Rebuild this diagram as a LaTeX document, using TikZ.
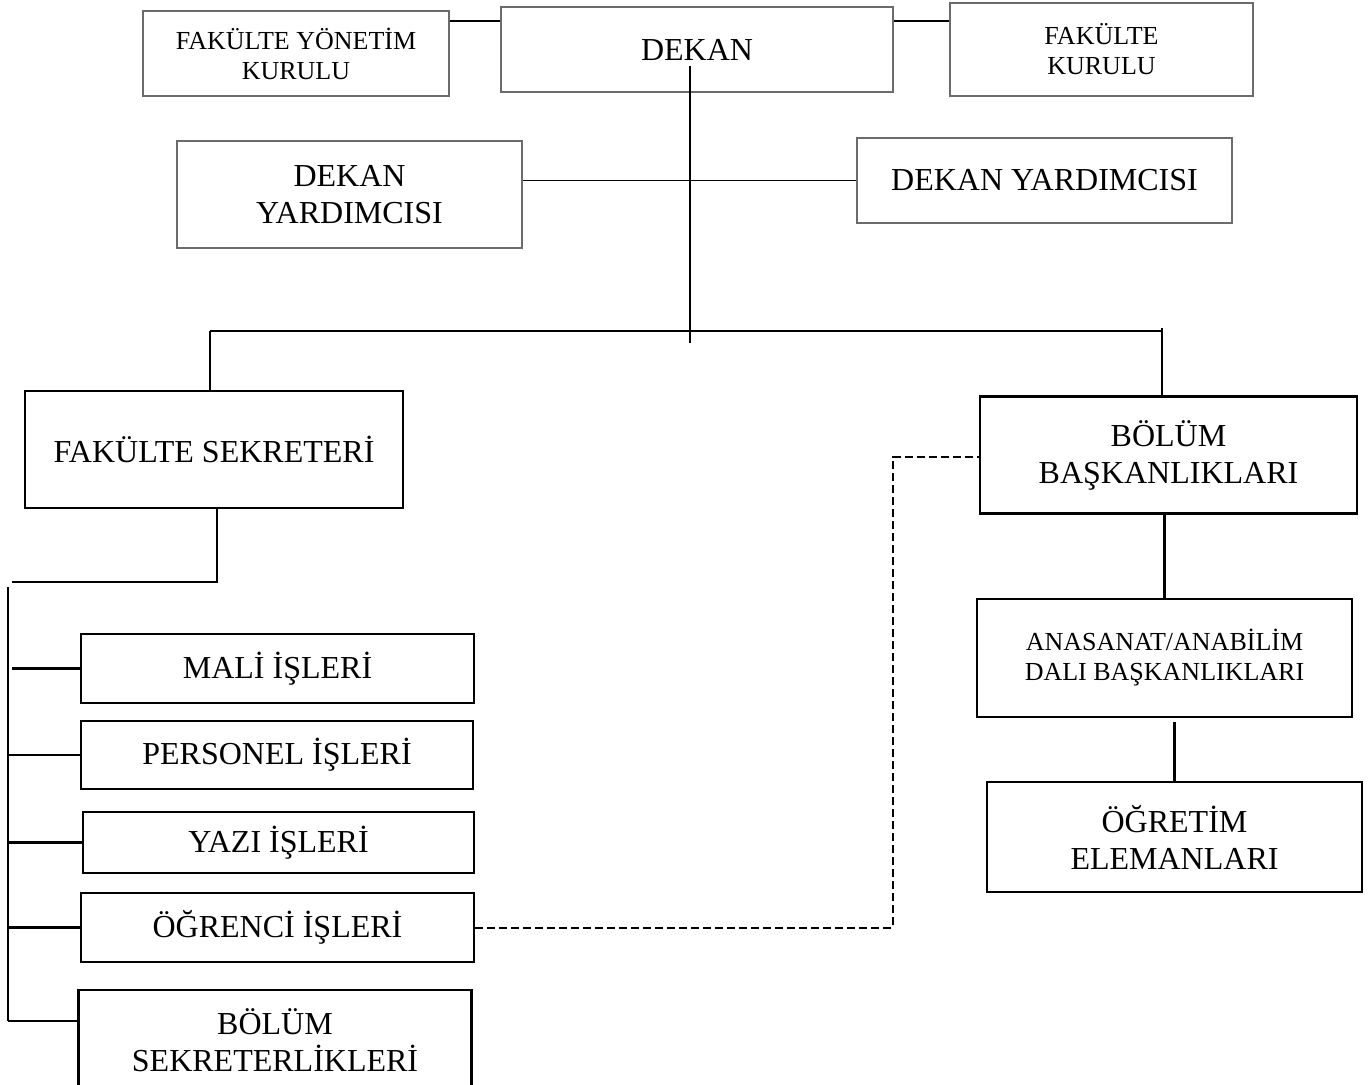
\documentclass[tikz,border=0pt]{standalone}
\usepackage{fontspec}
\setmainfont{Liberation Serif}
\newcommand\bigtext{\fontsize{32}{37}\selectfont}
\newcommand\smalltext{\fontsize{26}{30}\selectfont}
\tikzset{
  % style for the black boxes of the chart, size given as width/height
  unit box/.style args={#1/#2}{
    draw=black,line width=2.3pt,rectangle,inner sep=0pt,align=center,
    minimum width=#1,minimum height=#2,font=\bigtext
  },
  % style for the grey boxes at the top
  board box/.style args={#1/#2}{
    unit box=#1/#2,draw=black!58,line width=2pt
  },
  % plain and dashed links
  link/.style={draw=black,line width=2.3pt},
  dash link/.style={draw=black,line width=2pt,dash pattern=on 8pt off 4pt},
}

\begin{document}
\begin{tikzpicture}[x=1pt,y=-1pt]
\useasboundingbox (0,0) rectangle (1372,1084);
% top level
\node[board box=306pt/85pt,font=\smalltext] (fyk) at (296,53.5){FAKÜLTE YÖNETİM\\KURULU};
\node[board box=392pt/85pt] (dekan) at (697,49.5){DEKAN};
\node[board box=303pt/93pt,font=\smalltext] (fk) at (1101.5,49.5){FAKÜLTE\\KURULU};
\node[board box=345pt/107pt] (dyl) at (349.5,194.5){DEKAN\\YARDIMCISI};
\node[board box=375pt/85pt] (dyr) at (1044.5,180.5){DEKAN YARDIMCISI};
% second level
\node[unit box=378pt/117pt] (fs) at (214,449.5){FAKÜLTE SEKRETERİ};
\node[unit box=377pt/117pt] (bb) at (1168.5,455){BÖLÜM\\BAŞKANLIKLARI};
\node[unit box=375pt/118pt,font=\smalltext] (ana) at (1164.5,658){ANASANAT/ANABİLİM\\DALI BAŞKANLIKLARI};
\node[unit box=375pt/110pt] (oe) at (1174.5,837){ÖĞRETİM\\ELEMANLARI};
% offices
\node[unit box=393pt/69pt] (mali) at (277.5,668.5){MALİ İŞLERİ};
\node[unit box=392pt/68pt] (pers) at (277,755){PERSONEL İŞLERİ};
\node[unit box=391pt/61pt] (yazi) at (278.5,842.5){YAZI İŞLERİ};
\node[unit box=393pt/69pt] (ogr) at (277.5,927.5){ÖĞRENCİ İŞLERİ};
\node[unit box=393pt/100pt] (bs) at (275,1040){BÖLÜM\\SEKRETERLİKLERİ};
% junction points
\coordinate (top) at (690,66);
\coordinate (hub) at (690,343);
\coordinate (busL) at (210,331);
\coordinate (busR) at (1162,331);
\coordinate (fsB) at (217,582);
\coordinate (lbT) at (8,587);
\coordinate (lbB) at (8,1021);
\coordinate (dj) at (893,457);
% links
\draw [link]([yshift=-15pt]dekan.north west)--([yshift=-15pt]dekan.north west -| fyk.east);
\draw [link]([yshift=-15pt]dekan.north east)--([yshift=-15pt]dekan.north east -| fk.west);
\draw [link,line width=1.9pt](top)--(hub);
\draw [link,line width=1.9pt](dyl.east |- dyr.west)--(dyr.west);
\draw [link](busL)--(busR);
\draw [link](busL)--(busL |- fs.north);
\draw [link]([yshift=3pt]busR)--(busR |- bb.north);
\draw [link](fsB |- fs.south)--(fsB)--([xshift=4pt]fsB -| lbT);
\draw [link](lbT)--(lbB);
\draw [link]([xshift=4pt]mali.west -| lbT)--(mali.west);
\draw [link](pers.west -| lbT)--(pers.west);
\draw [link](yazi.west -| lbT)--(yazi.west);
\draw [link](ogr.west -| lbT)--(ogr.west);
\draw [link](lbB)--(lbB -| bs.west);
\draw [link](bb.south -| ana.north)--(ana.north);
\draw [link]([yshift=-4pt]ana.south -| oe.north)--(oe.north);
\draw [dash link](ogr.east)-|(dj)--(dj -| bb.west);
\end{tikzpicture}
\end{document}
